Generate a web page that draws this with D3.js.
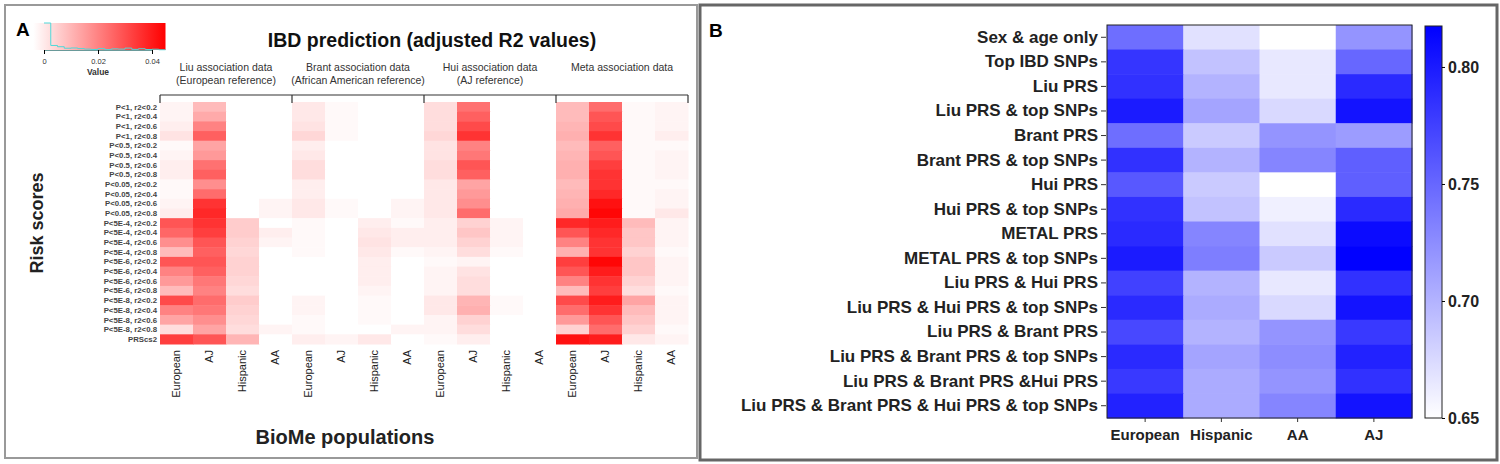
<!DOCTYPE html>
<html>
<head>
<meta charset="utf-8">
<script src="https://cdn.jsdelivr.net/npm/d3@7"></script>
<style>
  body { margin: 0; background: #fff; }
  svg { font-family: "Liberation Sans", Arial, sans-serif; }
</style>
</head>
<body>
<svg id="chart" width="1500" height="464"></svg>
<script>
// ---- panel A data ----
const riskScores = [
    'P<1, r2<0.2', 'P<1, r2<0.4', 'P<1, r2<0.6', 'P<1, r2<0.8',
    'P<0.5, r2<0.2', 'P<0.5, r2<0.4', 'P<0.5, r2<0.6', 'P<0.5, r2<0.8',
    'P<0.05, r2<0.2', 'P<0.05, r2<0.4', 'P<0.05, r2<0.6', 'P<0.05, r2<0.8',
    'P<5E-4, r2<0.2', 'P<5E-4, r2<0.4', 'P<5E-4, r2<0.6', 'P<5E-4, r2<0.8',
    'P<5E-6, r2<0.2', 'P<5E-6, r2<0.4', 'P<5E-6, r2<0.6', 'P<5E-6, r2<0.8',
    'P<5E-8, r2<0.2', 'P<5E-8, r2<0.4', 'P<5E-8, r2<0.6', 'P<5E-8, r2<0.8',
    'PRScs2'
];
const biomePops = ['European', 'AJ', 'Hispanic', 'AA'];
const groupTitles = ['Liu association data', 'Brant association data', 'Hui association data', 'Meta association data'];
const groupSubtitles = ['(European reference)', '(African American reference)', '(AJ reference)', ''];

// adjusted R2, one row per risk score: [European, AJ, Hispanic, AA]
const r2Liu = [
    [0.002, 0.012, 0, 0], [0.002, 0.015, 0, 0], [0.003, 0.022, 0, 0], [0.005, 0.028, 0, 0],
    [0.001, 0.016, 0, 0], [0.002, 0.018, 0, 0], [0.003, 0.025, 0, 0], [0.003, 0.028, 0, 0],
    [0.001, 0.020, 0, 0], [0.001, 0.026, 0, 0], [0.002, 0.036, 0, 0.002], [0.003, 0.038, 0, 0.002],
    [0.030, 0.036, 0.009, 0], [0.027, 0.034, 0.009, 0.003], [0.020, 0.030, 0.008, 0.002], [0.012, 0.028, 0.007, 0],
    [0.030, 0.030, 0.008, 0], [0.022, 0.028, 0.008, 0], [0.018, 0.024, 0.007, 0], [0.012, 0.022, 0.006, 0],
    [0.032, 0.026, 0.009, 0], [0.022, 0.024, 0.008, 0], [0.016, 0.020, 0.007, 0], [0.006, 0.016, 0.006, 0.002],
    [0.034, 0.030, 0.013, 0]
];
const r2Brant = [
    [0.004, 0.001, 0, 0], [0.004, 0.001, 0, 0], [0.005, 0.001, 0, 0], [0.007, 0.001, 0, 0],
    [0.003, 0, 0, 0], [0.004, 0, 0, 0], [0.006, 0, 0, 0], [0.006, 0, 0, 0],
    [0.003, 0, 0, 0], [0.003, 0, 0, 0], [0.004, 0.001, 0, 0.002], [0.004, 0.001, 0, 0.002],
    [0.001, 0, 0.003, 0.001], [0.001, 0, 0.004, 0.003], [0.001, 0, 0.005, 0.003], [0.001, 0, 0.004, 0.001],
    [0, 0, 0.003, 0], [0, 0, 0.003, 0], [0, 0, 0.003, 0], [0, 0, 0.002, 0],
    [0.002, 0, 0.001, 0], [0.002, 0, 0.001, 0], [0.001, 0, 0.001, 0], [0.001, 0, 0, 0.002],
    [0.003, 0.002, 0.004, 0]
];
const r2Hui = [
    [0.006, 0.025, 0, 0], [0.006, 0.028, 0, 0], [0.006, 0.032, 0, 0], [0.007, 0.036, 0, 0],
    [0.005, 0.022, 0, 0], [0.005, 0.024, 0, 0], [0.006, 0.030, 0, 0], [0.006, 0.028, 0, 0],
    [0.004, 0.016, 0, 0], [0.004, 0.018, 0, 0], [0.004, 0.020, 0, 0], [0.004, 0.026, 0, 0],
    [0.003, 0.008, 0.002, 0], [0.003, 0.010, 0.002, 0], [0.003, 0.008, 0.002, 0], [0.002, 0.006, 0.001, 0],
    [0.001, 0.002, 0, 0], [0.002, 0.005, 0, 0], [0.002, 0.006, 0, 0], [0.002, 0.006, 0, 0],
    [0.004, 0.013, 0.001, 0], [0.004, 0.014, 0.001, 0], [0.002, 0.008, 0, 0], [0.002, 0.006, 0, 0],
    [0.001, 0.003, 0, 0]
];
const r2Meta = [
    [0.012, 0.026, 0.001, 0.002], [0.012, 0.030, 0.001, 0.002], [0.013, 0.032, 0.001, 0.002], [0.014, 0.036, 0.001, 0.003],
    [0.012, 0.028, 0.001, 0.001], [0.013, 0.030, 0.001, 0.002], [0.014, 0.034, 0.001, 0.002], [0.014, 0.036, 0.001, 0.002],
    [0.012, 0.036, 0.001, 0.001], [0.013, 0.038, 0.001, 0.002], [0.014, 0.042, 0.001, 0.002], [0.015, 0.044, 0.001, 0.004],
    [0.038, 0.040, 0.012, 0.002], [0.030, 0.038, 0.010, 0.002], [0.022, 0.036, 0.010, 0.002], [0.014, 0.036, 0.008, 0.001],
    [0.034, 0.044, 0.010, 0.002], [0.030, 0.040, 0.010, 0.002], [0.022, 0.036, 0.008, 0.002], [0.012, 0.034, 0.006, 0.001],
    [0.032, 0.040, 0.016, 0.002], [0.026, 0.036, 0.012, 0.002], [0.018, 0.030, 0.010, 0.002], [0.008, 0.026, 0.008, 0.001],
    [0.042, 0.040, 0.004, 0.002]
];
const keyTicks = [0, 0.02, 0.04];

// ---- panel B data ----
const models = [
    'Sex & age only', 'Top IBD SNPs', 'Liu PRS', 'Liu PRS & top SNPs',
    'Brant PRS', 'Brant PRS & top SNPs', 'Hui PRS', 'Hui PRS & top SNPs',
    'METAL PRS', 'METAL PRS &  top SNPs', 'Liu PRS & Hui PRS', 'Liu PRS & Hui PRS & top SNPs',
    'Liu PRS & Brant PRS', 'Liu PRS & Brant PRS & top SNPs', 'Liu PRS & Brant PRS &Hui PRS',
    'Liu PRS & Brant PRS & Hui PRS & top SNPs'
];
const cohortsB = ['European', 'Hispanic', 'AA', 'AJ'];
// one row per model: [European, Hispanic, AA, AJ]
const aucValues = [
    [0.745, 0.670, 0.650, 0.720],
    [0.783, 0.690, 0.665, 0.750],
    [0.785, 0.700, 0.665, 0.790],
    [0.800, 0.710, 0.675, 0.805],
    [0.745, 0.685, 0.720, 0.715],
    [0.785, 0.700, 0.730, 0.755],
    [0.760, 0.685, 0.650, 0.755],
    [0.785, 0.690, 0.660, 0.790],
    [0.790, 0.730, 0.670, 0.810],
    [0.800, 0.735, 0.685, 0.817],
    [0.775, 0.700, 0.665, 0.785],
    [0.790, 0.705, 0.675, 0.805],
    [0.770, 0.700, 0.720, 0.780],
    [0.790, 0.710, 0.725, 0.795],
    [0.780, 0.705, 0.720, 0.785],
    [0.795, 0.705, 0.730, 0.805]
];
const aucTicks = [0.65, 0.70, 0.75, 0.80];

const svg = d3.select('#chart');
const FONT_DARK = '#222';

// panel frames
svg.append('rect').attr('x', 5).attr('y', 5).attr('width', 692).attr('height', 453)
    .attr('fill', 'none').attr('stroke', '#999').attr('stroke-width', 2);
svg.append('rect').attr('x', 700).attr('y', 5).attr('width', 797).attr('height', 455)
    .attr('fill', 'none').attr('stroke', '#666').attr('stroke-width', 3);

function drawPanelA() {
    const groups = [r2Liu, r2Brant, r2Hui, r2Meta];
    const cells = [];
    groups.forEach((g, gi) => {
        g.forEach((row, ri) => {
            row.forEach((v, pi) => {
                cells.push({ col: gi * 4 + pi, row: ri, value: v });
            });
        });
    });

    const x = d3.scaleBand().domain(d3.range(16)).range([160, 688]);
    const y = d3.scaleBand().domain(riskScores).range([102, 344]);
    const color = d3.scaleLinear().domain([0, 0.045]).range(['#ffffff', '#ff0000']).clamp(true);

    svg.append('g').selectAll('rect')
        .data(cells)
        .join('rect')
        .attr('x', d => x(d.col))
        .attr('y', d => y(riskScores[d.row]))
        .attr('width', x.bandwidth() + 0.5)
        .attr('height', y.bandwidth() + 0.5)
        .attr('fill', d => color(d.value));

    // row labels
    svg.append('g').selectAll('text')
        .data(riskScores)
        .join('text')
        .attr('x', 157)
        .attr('y', d => y(d) + y.bandwidth() / 2)
        .attr('dy', '0.35em')
        .attr('text-anchor', 'end')
        .attr('font-size', 7.8)
        .attr('font-weight', 'bold')
        .attr('fill', '#444')
        .text(d => d);

    // population labels (rotated)
    svg.append('g').selectAll('text')
        .data(d3.range(16))
        .join('text')
        .attr('transform', d => `translate(${x(d) + x.bandwidth() / 2},350) rotate(-90)`)
        .attr('dy', '0.35em')
        .attr('text-anchor', 'end')
        .attr('font-size', 11)
        .attr('fill', FONT_DARK)
        .text(d => biomePops[d % 4]);

    // bracket over the groups
    const groupEdges = d3.range(5).map(i => i === 4 ? x.range()[1] : x(i * 4));
    svg.append('line')
        .attr('x1', groupEdges[0]).attr('x2', groupEdges[4])
        .attr('y1', 95).attr('y2', 95)
        .attr('stroke', '#333').attr('stroke-width', 1.2);
    svg.append('g').selectAll('line')
        .data(groupEdges)
        .join('line')
        .attr('x1', d => d).attr('x2', d => d)
        .attr('y1', 95).attr('y2', 103)
        .attr('stroke', '#333').attr('stroke-width', 1.2);

    const headers = svg.append('g').selectAll('g')
        .data(groupTitles)
        .join('g')
        .attr('transform', (d, i) => `translate(${(groupEdges[i] + groupEdges[i + 1]) / 2},0)`);
    headers.append('text')
        .attr('y', 71)
        .attr('text-anchor', 'middle')
        .attr('font-size', 10.5)
        .attr('fill', '#333')
        .text(d => d);
    headers.append('text')
        .attr('y', 84)
        .attr('text-anchor', 'middle')
        .attr('font-size', 10.5)
        .attr('fill', '#333')
        .text((d, i) => groupSubtitles[i]);

    svg.append('text')
        .attr('x', 432).attr('y', 47)
        .attr('text-anchor', 'middle')
        .attr('font-size', 19.5).attr('font-weight', 'bold')
        .attr('fill', '#111')
        .text('IBD prediction (adjusted R2 values)');

    svg.append('text')
        .attr('x', 345).attr('y', 444)
        .attr('text-anchor', 'middle')
        .attr('font-size', 20).attr('font-weight', 'bold')
        .attr('fill', FONT_DARK)
        .text('BioMe populations');

    svg.append('text')
        .attr('transform', 'translate(43,223) rotate(-90)')
        .attr('text-anchor', 'middle')
        .attr('font-size', 18).attr('font-weight', 'bold')
        .attr('fill', FONT_DARK)
        .text('Risk scores');

    svg.append('text')
        .attr('x', 16).attr('y', 36)
        .attr('font-size', 19).attr('font-weight', 'bold')
        .text('A');

    // colour key with histogram
    const kx = d3.scaleLinear().domain([0, 0.04]).range([44, 152]);
    const keyTop = 23, keyBottom = 50;
    const defs = svg.append('defs');
    const grad = defs.append('linearGradient').attr('id', 'redKey');
    grad.append('stop').attr('offset', '0%').attr('stop-color', color(0));
    grad.append('stop').attr('offset', '100%').attr('stop-color', color(0.045));
    svg.append('rect')
        .attr('x', kx(-0.004)).attr('y', keyTop)
        .attr('width', kx(0.045) - kx(-0.004)).attr('height', keyBottom - keyTop)
        .attr('fill', 'url(#redKey)');

    const allValues = cells.map(d => d.value);
    const bins = d3.bin().domain([0, 0.045]).thresholds(d3.range(0, 0.045, 0.0025))(allValues);
    const ky = d3.scaleLinear().domain([0, d3.max(bins, b => b.length)]).range([keyBottom, keyTop]);
    const histLine = d3.line().curve(d3.curveStepAfter).x(d => kx(d.x0)).y(d => ky(d.length));
    svg.append('path')
        .datum(bins.concat([{ x0: 0.045, length: bins[bins.length - 1].length }]))
        .attr('d', histLine)
        .attr('fill', 'none')
        .attr('stroke', '#4fd8d8')
        .attr('stroke-width', 1);

    const keyAxis = svg.append('g')
        .attr('transform', `translate(0,${keyBottom})`)
        .call(d3.axisBottom(kx).tickValues(keyTicks).tickSize(4).tickFormat(d => d === 0 ? '0' : d3.format('.2f')(d)));
    keyAxis.select('.domain').attr('stroke', '#6a9a9a');
    keyAxis.selectAll('text').attr('font-size', 7.5).attr('fill', '#333').attr('dy', '0.9em');
    svg.append('text')
        .attr('x', kx(0.02)).attr('y', 75)
        .attr('text-anchor', 'middle')
        .attr('font-size', 8.5).attr('font-weight', 'bold').attr('fill', '#333')
        .text('Value');
}

function drawPanelB() {
    const x = d3.scaleBand().domain(cohortsB).range([1107, 1412]);
    const y = d3.scaleBand().domain(models).range([25, 418]);
    const color = d3.scaleLinear().domain([0.65, 0.8175]).range(['#ffffff', '#0000ff']).clamp(true);

    const cells = [];
    aucValues.forEach((row, ri) => row.forEach((v, ci) => cells.push({ model: models[ri], cohort: cohortsB[ci], value: v })));

    svg.append('g').selectAll('rect')
        .data(cells)
        .join('rect')
        .attr('x', d => x(d.cohort))
        .attr('y', d => y(d.model))
        .attr('width', x.bandwidth() + 0.5)
        .attr('height', y.bandwidth() + 0.5)
        .attr('fill', d => color(d.value));

    svg.append('rect')
        .attr('x', 1107).attr('y', 25).attr('width', 305).attr('height', 393)
        .attr('fill', 'none').attr('stroke', '#222').attr('stroke-width', 1);

    const yAxis = svg.append('g')
        .attr('transform', 'translate(1106,0)')
        .call(d3.axisLeft(y).tickSize(5).tickPadding(3));
    yAxis.select('.domain').remove();
    yAxis.selectAll('text').attr('font-size', 17).attr('font-weight', 'bold').attr('fill', FONT_DARK);
    yAxis.selectAll('line').attr('stroke', '#333');

    const xAxis = svg.append('g')
        .attr('transform', 'translate(0,418)')
        .call(d3.axisBottom(x).tickSize(4).tickPadding(7));
    xAxis.select('.domain').remove();
    xAxis.selectAll('text').attr('font-size', 15).attr('font-weight', 'bold').attr('fill', FONT_DARK);
    xAxis.selectAll('line').attr('stroke', '#333');

    // colour bar
    const cb = d3.scaleLinear().domain([0.65, 0.8175]).range([418, 26]);
    const grad = svg.select('defs').append('linearGradient')
        .attr('id', 'blueKey').attr('x1', 0).attr('y1', 1).attr('x2', 0).attr('y2', 0);
    grad.append('stop').attr('offset', '0%').attr('stop-color', color(0.65));
    grad.append('stop').attr('offset', '100%').attr('stop-color', color(0.8175));
    svg.append('rect')
        .attr('x', 1425).attr('y', 26).attr('width', 17).attr('height', 392)
        .attr('fill', 'url(#blueKey)').attr('stroke', '#222').attr('stroke-width', 1);
    const cbAxis = svg.append('g')
        .attr('transform', 'translate(1442,0)')
        .call(d3.axisRight(cb).tickValues(aucTicks).tickSize(3).tickPadding(3).tickFormat(d3.format('.2f')));
    cbAxis.select('.domain').remove();
    cbAxis.selectAll('text').attr('font-size', 16).attr('font-weight', 'bold').attr('fill', FONT_DARK);

    svg.append('text')
        .attr('x', 709).attr('y', 37)
        .attr('font-size', 19).attr('font-weight', 'bold')
        .text('B');
}

drawPanelA();
drawPanelB();
</script>
</body>
</html>
